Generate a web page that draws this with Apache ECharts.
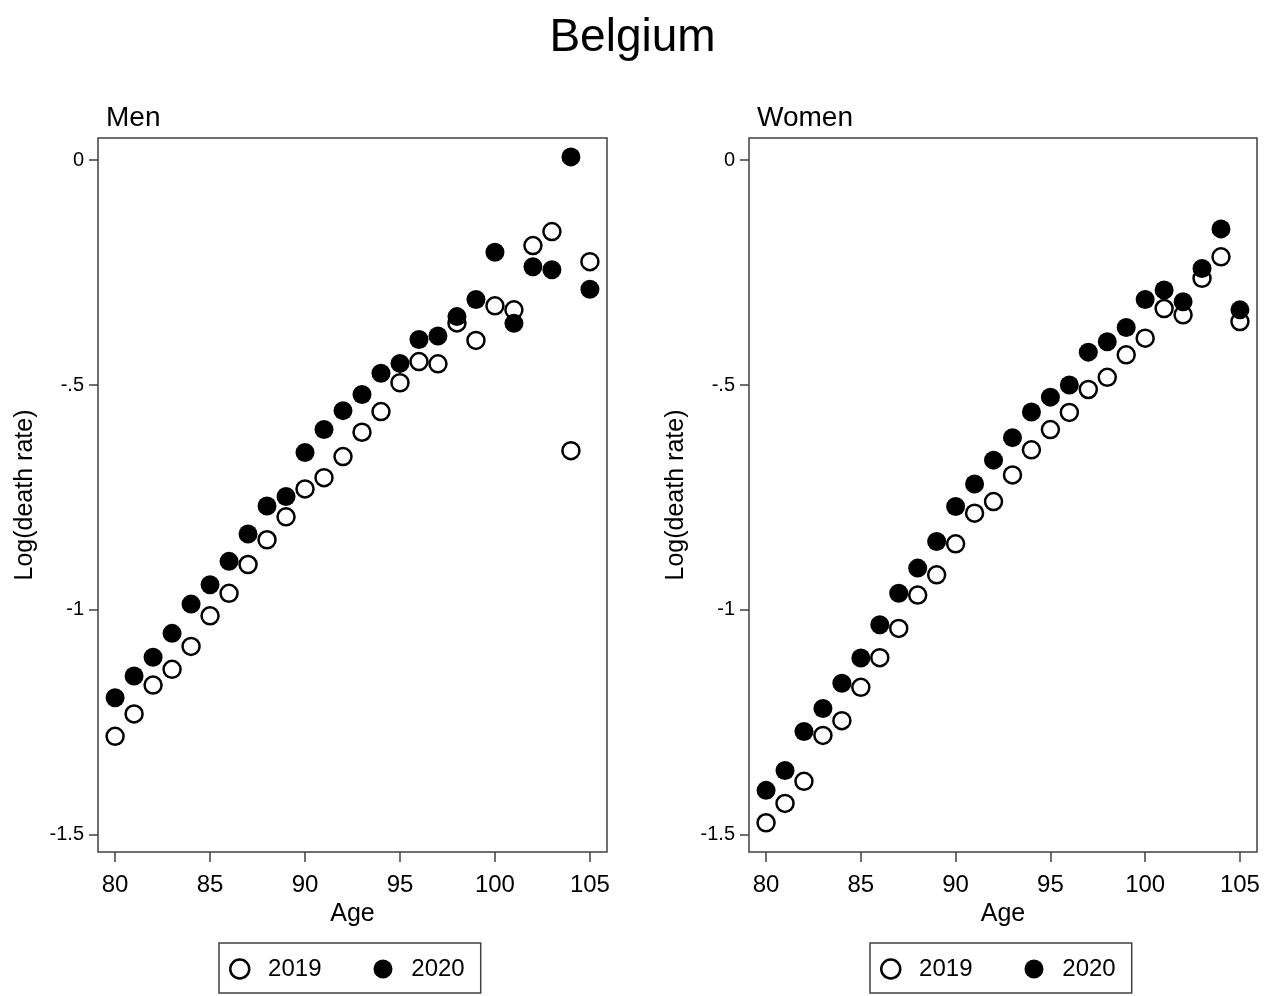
<!DOCTYPE html>
<html>
<head>
<meta charset="utf-8">
<title>Belgium</title>
<script src="https://cdn.jsdelivr.net/npm/echarts@6/dist/echarts.min.js"></script>
<style>
    html, body { margin: 0; padding: 0; background: #fff; }
    #chart { width: 1265px; height: 996px; }
</style>
</head>
<body>
<div id="chart"></div>
<script>
// ages on the x axis
const ages = [80, 81, 82, 83, 84, 85, 86, 87, 88, 89, 90, 91, 92,
    93, 94, 95, 96, 97, 98, 99, 100, 101, 102, 103, 104, 105];

// log(death rate)
const men2019 = [-1.281, -1.231, -1.167, -1.132, -1.081, -1.013, -0.963, -0.899, -0.844, -0.793, -0.731, -0.706, -0.659,
    -0.605, -0.559, -0.495, -0.448, -0.453, -0.362, -0.401, -0.324, -0.333, -0.19, -0.159, -0.646, -0.226];
const men2020 = [-1.195, -1.147, -1.105, -1.052, -0.987, -0.944, -0.892, -0.831, -0.769, -0.748, -0.65, -0.599, -0.557,
    -0.521, -0.474, -0.452, -0.399, -0.391, -0.348, -0.31, -0.205, -0.363, -0.237, -0.244, 0.007, -0.287];
const women2019 = [-1.473, -1.43, -1.381, -1.279, -1.246, -1.172, -1.106, -1.041, -0.967, -0.922, -0.853, -0.785, -0.759,
    -0.7, -0.644, -0.599, -0.561, -0.51, -0.483, -0.433, -0.396, -0.33, -0.344, -0.263, -0.215, -0.359];
const women2020 = [-1.401, -1.357, -1.27, -1.219, -1.163, -1.107, -1.033, -0.963, -0.907, -0.848, -0.77, -0.72, -0.667,
    -0.617, -0.56, -0.527, -0.5, -0.427, -0.404, -0.372, -0.31, -0.289, -0.315, -0.241, -0.153, -0.333];

// tick labels
const xTicks = [80, 85, 90, 95, 100, 105];
const yTicks = [0, -0.5, -1, -1.5];
const yTickLabels = ['0', '-.5', '-1', '-1.5'];

const FONT = 'Liberation Sans, Arial, Helvetica, sans-serif';
const FRAME = '#404040';

function pairs(values) {
    return ages.map((a, i) => [a, values[i]]);
}

function makeXAxis(gridIndex) {
    return {
        type: 'value',
        gridIndex: gridIndex,
        position: 'bottom',
        min: 79.1,
        max: 105.9,
        name: 'Age',
        nameLocation: 'middle',
        nameGap: 49,
        nameTextStyle: { fontFamily: FONT, fontSize: 25, color: '#000' },
        splitLine: { show: false },
        axisLine: { show: false, onZero: false },
        axisTick: { show: true, inside: false, length: 10, customValues: xTicks, lineStyle: { color: FRAME, width: 1.5 } },
        axisLabel: { customValues: xTicks, margin: 21, fontFamily: FONT, fontSize: 24, color: '#000' }
    };
}

function makeYAxis(gridIndex) {
    return {
        type: 'value',
        gridIndex: gridIndex,
        position: 'left',
        min: -1.538,
        max: 0.049,
        name: 'Log(death rate)',
        nameLocation: 'middle',
        nameGap: 60,
        nameTextStyle: { fontFamily: FONT, fontSize: 25, color: '#000' },
        splitLine: { show: false },
        axisLine: { show: false, onZero: false },
        axisTick: { show: true, inside: false, length: 9, customValues: yTicks, lineStyle: { color: FRAME, width: 1.5 } },
        axisLabel: {
            customValues: yTicks,
            margin: 14,
            fontFamily: FONT,
            fontSize: 20,
            color: '#000',
            formatter: function (v) {
                const i = yTicks.findIndex(t => Math.abs(t - v) < 1e-9);
                return i >= 0 ? yTickLabels[i] : '';
            }
        }
    };
}

function makeLegend(left) {
    return {
        left: left,
        top: 943,
        orient: 'horizontal',
        padding: [14, 16, 12, 10],
        itemWidth: 20,
        itemHeight: 19,
        itemGap: 52,
        borderColor: FRAME,
        borderWidth: 1.5,
        borderRadius: 0,
        selectedMode: false,
        textStyle: { fontFamily: FONT, fontSize: 24, color: '#000' },
        formatter: name => '  ' + name,
        data: [
            { name: '2019', icon: 'circle', itemStyle: { color: '#fff', borderColor: '#000', borderWidth: 2.5 } },
            { name: '2020', icon: 'circle', itemStyle: { color: '#000', borderWidth: 0 } }
        ]
    };
}

function makeSeries(name, values, idx, filled) {
    return {
        name: name,
        type: 'scatter',
        xAxisIndex: idx,
        yAxisIndex: idx,
        symbol: 'circle',
        symbolSize: filled ? 19 : 17,
        itemStyle: filled
            ? { color: '#000', opacity: 1 }
            : { color: '#fff', borderColor: '#000', borderWidth: 2.5, opacity: 1 },
        emphasis: { disabled: true },
        z: filled ? 3 : 2,
        data: pairs(values)
    };
}

const chart = echarts.init(document.getElementById('chart'), null, { renderer: 'canvas' });

const option = {
    backgroundColor: '#fff',
    animation: false,
    title: [
        { text: 'Belgium', left: 'center', top: 10, textStyle: { fontFamily: FONT, fontSize: 46, fontWeight: 'normal', color: '#000' } },
        { text: 'Men', left: 101, top: 99, textStyle: { fontFamily: FONT, fontSize: 28, fontWeight: 'normal', color: '#000' } },
        { text: 'Women', left: 752, top: 99, textStyle: { fontFamily: FONT, fontSize: 28, fontWeight: 'normal', color: '#000' } }
    ],
    grid: [
        { left: 98, top: 138, width: 509, height: 714, show: true, borderColor: FRAME, borderWidth: 1.5, backgroundColor: '#fff' },
        { left: 749, top: 138, width: 508, height: 714, show: true, borderColor: FRAME, borderWidth: 1.5, backgroundColor: '#fff' }
    ],
    xAxis: [makeXAxis(0), makeXAxis(1)],
    yAxis: [makeYAxis(0), makeYAxis(1)],
    legend: [makeLegend(219), makeLegend(870)],
    series: [
        makeSeries('2019', men2019, 0, false),
        makeSeries('2020', men2020, 0, true),
        makeSeries('2019', women2019, 1, false),
        makeSeries('2020', women2020, 1, true)
    ]
};

chart.setOption(option);
</script>
</body>
</html>
